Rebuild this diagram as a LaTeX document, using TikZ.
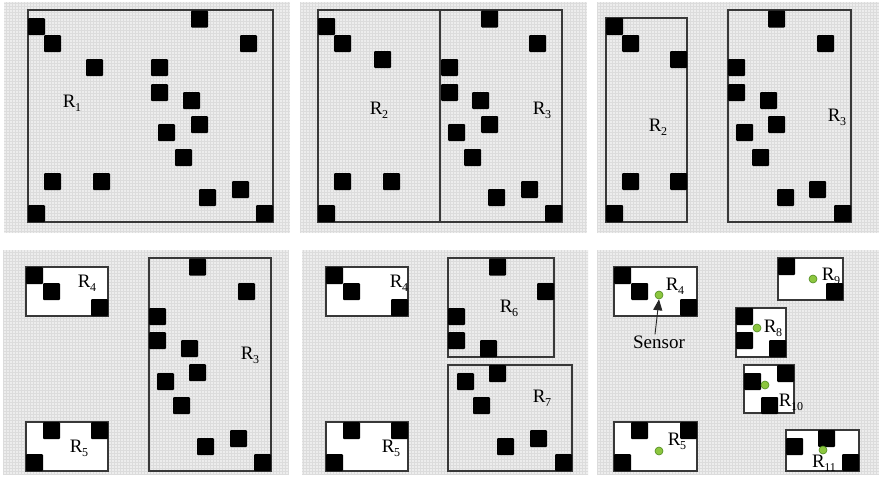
\documentclass[tikz,border=0pt]{standalone}
\usepackage{fontspec}
\setmainfont{Liberation Serif}
\usetikzlibrary{arrows.meta}
\definecolor{panelbg}{HTML}{EDEDED}
\definecolor{gridln}{HTML}{DCDCDC}
\definecolor{edge}{HTML}{383838}
\definecolor{dotfill}{HTML}{8CC63F}
\definecolor{dotedge}{HTML}{4E8A1E}
\newcommand\Rlab[1]{R\kern-0.5pt\raisebox{-0.45ex}{\fontsize{12}{12}\selectfont #1}}
\tikzset{
  panel/.style={fill=panelbg},
  gridlines/.style={draw=gridln, line width=0.25pt},
  region/.style={draw=edge, line width=1.3pt},
  whiteregion/.style={draw=edge, line width=1.3pt, fill=white},
  blkst/.style={fill=black, rounded corners=1pt},
  lbl/.style={inner sep=0pt, font=\fontsize{19}{19}\selectfont},
  sens/.style={inner sep=1pt, font=\fontsize{19}{19}\selectfont},
  dot/.style={circle, fill=dotfill, draw=dotedge, line width=0.6pt, inner sep=0pt, minimum size=8pt},
  arr/.style={draw=black!85, line width=0.9pt, -{Triangle[length=11pt,width=9pt]}}
}
\begin{document}
\begin{tikzpicture}[x=1pt,y=-1pt]
\useasboundingbox (0,0) rectangle (879,477);
% panel backgrounds
\foreach \a/\b/\c/\d in {4/2/290/233, 300/2/587/233, 597/2/879/233, 3/250/289/475, 302/250/588/475, 597/250/879/475}{
  \fill[panel] (\a,\b) rectangle (\c,\d);
  \begin{scope}
    \clip (\a,\b) rectangle (\c,\d);
    \draw[gridlines, step=3pt] (\a,\b) grid (\c,\d);
  \end{scope}
}
% ---------- Panel 1 ----------
\draw[region] (28,10) rectangle (273,222);
\node[lbl] (r1) at (72,103) {\Rlab{1}};
\foreach \x/\y in {28/18, 44/35, 191/10.5, 240/35, 86/59, 151/59, 151/84, 183/92, 191/116, 158/124, 175/149, 44/173, 93/173, 199/189, 232/181, 28/205, 256/205}
  \fill[blkst] (\x,\y) rectangle ++(17,17);
% ---------- Panel 2 ----------
\draw[region] (318,10) rectangle (562,222);
\draw[region] (440,10) -- (440,222);
\node[lbl] (p2r2) at (379,110) {\Rlab{2}};
\node[lbl] (p2r3) at (542,110) {\Rlab{3}};
\foreach \x/\y in {318/18, 334/35, 374/51, 334/173, 383/173, 318/205, 481/10.5, 529/35, 441/59, 441/84, 472/92, 481/116, 448/124, 464/149, 488/189, 521/181, 545/205}
  \fill[blkst] (\x,\y) rectangle ++(17,17);
% ---------- Panel 3 ----------
\draw[region] (606,18) rectangle (687,222);
\draw[region] (728,10) rectangle (851,222);
\node[lbl] (p3r2) at (658,127) {\Rlab{2}};
\node[lbl] (p3r3) at (837,117) {\Rlab{3}};
\foreach \x/\y in {606/18, 622/35, 670/51, 622/173, 670/173, 606/205, 768/10.5, 817/35, 728/59, 728/84, 760/92, 768/116, 736/124, 752/149, 777/189, 809/181, 834/205}
  \fill[blkst] (\x,\y) rectangle ++(17,17);
% ---------- Panel 4 ----------
\draw[whiteregion] (26,267) rectangle (108,316);
\draw[whiteregion] (26,422) rectangle (108,471);
\draw[region] (149,258) rectangle (271,471);
\node[lbl] (p4r4) at (87,283) {\Rlab{4}};
\node[lbl] (p4r5) at (79,448) {\Rlab{5}};
\node[lbl] (p4r3) at (250,355) {\Rlab{3}};
\foreach \x/\y in {26/267, 43/283, 91/299, 43/422, 91/422, 26/454, 189/258.5, 238/283, 149/308, 149/332, 181/340, 189/364, 157/373, 173/397, 197/438, 230/430, 254/454}
  \fill[blkst] (\x,\y) rectangle ++(17,17);
% ---------- Panel 5 ----------
\draw[whiteregion] (326,267) rectangle (408,316);
\draw[whiteregion] (326,422) rectangle (408,471);
\draw[region] (448,258) rectangle (554,357);
\draw[region] (448,365) rectangle (572,471);
\node[lbl] (p5r4) at (399,283) {\Rlab{4}};
\node[lbl] (p5r5) at (391,448) {\Rlab{5}};
\node[lbl] (p5r6) at (509,308) {\Rlab{6}};
\node[lbl] (p5r7) at (542,398) {\Rlab{7}};
\foreach \x/\y in {326/267, 343/283, 391/299, 343/422, 391/422, 326/454, 489/258.5, 537/283, 448/308, 448/332, 480/340, 489/365, 457/373, 473/397, 497/438, 530/430, 555/454}
  \fill[blkst] (\x,\y) rectangle ++(17,17);
% ---------- Panel 6 ----------
\draw[whiteregion] (614,267) rectangle (697,316);
\draw[whiteregion] (614,422) rectangle (697,471);
\draw[whiteregion] (778,258) rectangle (843,300);
\draw[whiteregion] (736,308) rectangle (786,357);
\draw[whiteregion] (744,365) rectangle (794,413);
\draw[whiteregion] (786,430) rectangle (859,471);
\node[lbl] (p6r4) at (675,286) {\Rlab{4}};
\node[lbl] (p6r5) at (677,441) {\Rlab{5}};
\node[lbl] (p6r9) at (831,276) {\Rlab{9}};
\node[lbl] (p6r8) at (773,328) {\Rlab{8}};
\node[lbl] (p6r10) at (791,402) {\Rlab{10}};
\node[lbl] (p6r11) at (824,463) {\Rlab{11}};
\foreach \x/\y in {614/267, 631/283, 680/299, 631/422, 680/422, 614/454, 778/258, 826/283, 736/308, 736/332, 769/340, 777/365, 744/373, 761/397, 818/430, 786/438, 842/454}
  \fill[blkst] (\x,\y) rectangle ++(17,17);
\node[dot] (d4) at (659,295) {};
\node[dot] (d5) at (659,451) {};
\node[dot] (d9) at (813,279) {};
\node[dot] (d8) at (757,328) {};
\node[dot] (d10) at (765,385) {};
\node[dot] (d11) at (823,450) {};
\node[sens] (sensor) at (659,342) {Sensor};
\draw[arr] ([xshift=-4pt]sensor.north) -- (d4.south);
\end{tikzpicture}
\end{document}
